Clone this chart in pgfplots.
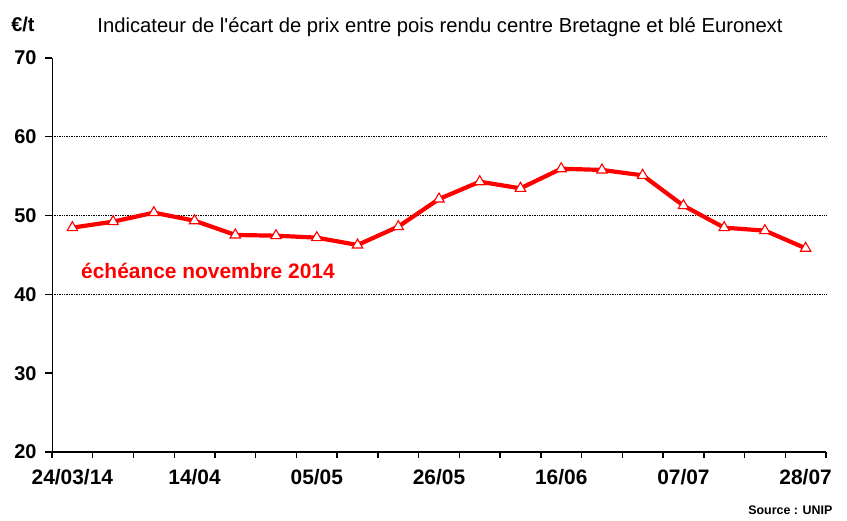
\documentclass[border=0pt]{standalone}
\usepackage{pgfplots}
\pgfplotsset{compat=1.18}
\usepackage{fontspec}
\setmainfont{Liberation Sans}
\definecolor{myred}{RGB}{255,0,0}
\begin{document}
\begin{tikzpicture}[x=1bp,y=1bp]
\useasboundingbox (0,0) rectangle (847,521);
\begin{axis}[
  at={(52bp,69bp)}, anchor=south west,
  scale only axis, width=774bp, height=394bp,
  xmin=-0.5, xmax=18.5, ymin=20, ymax=70,
  axis x line*=bottom, axis y line*=left,
  x axis line style={-, line width=2.4bp},
  y axis line style={-, line width=0.8bp},
  ytick={20,30,...,70},
  xtick={0,3,...,18},
  xticklabels={24/03/14,14/04,05/05,26/05,16/06,07/07,28/07},
  minor xtick={-0.5,0.5,...,18.5},
  major x tick style={draw=none},
  minor x tick style={line width=1.4bp, black},
  major y tick style={line width=1.4bp, black},
  major tick length=7bp, minor tick length=6bp,
  tick align=outside,
  /pgf/number format/assume math mode=true,
  xticklabel style={font=\bfseries\fontsize{21}{23}\selectfont, yshift=-7bp},
  yticklabel style={font=\bfseries\fontsize{20}{22}\selectfont, xshift=-5bp},
  clip=false,
]
\draw[densely dotted, black, line width=0.7bp] (axis cs:-0.5,40) -- (axis cs:18.5,40);
\draw[densely dotted, black, line width=0.7bp] (axis cs:-0.5,50) -- (axis cs:18.5,50);
\draw[densely dotted, black, line width=0.7bp] (axis cs:-0.5,60) -- (axis cs:18.5,60);
\addplot[myred, line width=4.2bp, mark=triangle*, mark size=6bp,
  mark options={fill=white, draw=myred, line width=1.1bp, solid}]
  coordinates {
  (0,48.47) (1,49.23) (2,50.37) (3,49.35) (4,47.54) (5,47.45) (6,47.2)
  (7,46.27) (8,48.6) (9,52.1) (10,54.3) (11,53.46) (12,55.95) (13,55.79)
  (14,55.11) (15,51.26) (16,48.47) (17,48.09) (18,45.85)
  };
\end{axis}
\node[font=\bfseries\fontsize{20}{22}\selectfont] at (23,497) {€/t};
\node[font=\fontsize{20.3}{22}\selectfont] at (440,494) {Indicateur de l\textquotesingle écart de prix entre pois rendu centre Bretagne et blé Euronext};
\node[text=myred, font=\bfseries\fontsize{21}{24}\selectfont] at (208,250) {échéance novembre 2014};
\node[font=\bfseries\fontsize{12.5}{15}\selectfont, anchor=east] at (836,11) {Source : UNIP};
\end{tikzpicture}
\end{document}
